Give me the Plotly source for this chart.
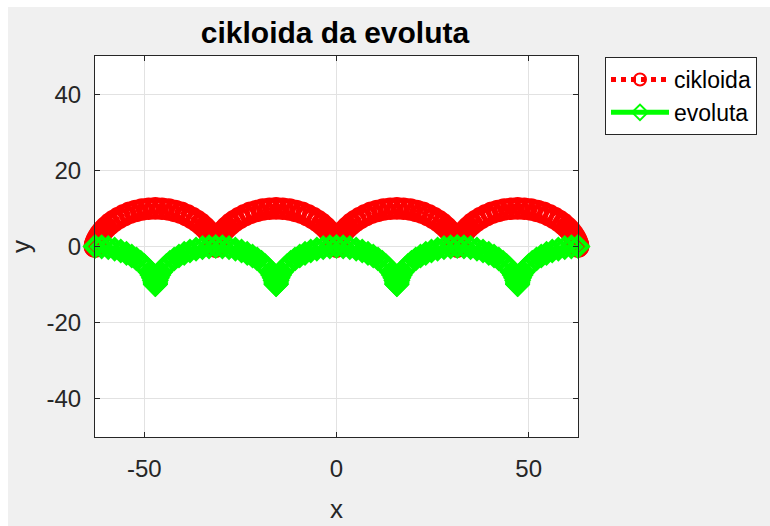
import plotly.graph_objects as go

# Cycloid (r = 5) sampled every 10 degrees of the rolling angle, from -4*pi to 4*pi
cikloida_x = [
    -62.83, -62.83, -62.80, -62.72, -62.56, -62.30, -61.93, -61.43, -60.78, -59.98,
    -59.03, -57.94, -56.69, -55.32, -53.83, -52.25, -50.58, -48.87, -47.13, -45.39,
    -43.67, -42.01, -40.42, -38.93, -37.56, -36.32, -35.22, -34.27, -33.48, -32.83,
    -32.33, -31.95, -31.70, -31.54, -31.46, -31.42, -31.42,
    -31.41, -31.38, -31.30, -31.14, -30.88, -30.51, -30.01, -29.36, -28.56, -27.61,
    -26.52, -25.27, -23.90, -22.41, -20.83, -19.16, -17.45, -15.71, -13.97, -12.25,
    -10.59, -9.00, -7.51, -6.14, -4.90, -3.80, -2.85, -2.06, -1.41, -0.91,
    -0.53, -0.28, -0.12, -0.04, 0.00, 0.00,
    0.00, 0.04, 0.12, 0.28, 0.53, 0.91, 1.41, 2.06, 2.85, 3.80,
    4.90, 6.14, 7.51, 9.00, 10.59, 12.25, 13.97, 15.71, 17.45, 19.16,
    20.83, 22.41, 23.90, 25.27, 26.52, 27.61, 28.56, 29.36, 30.01, 30.51,
    30.88, 31.14, 31.30, 31.38, 31.41, 31.42,
    31.42, 31.46, 31.54, 31.70, 31.95, 32.33, 32.83, 33.48, 34.27, 35.22,
    36.32, 37.56, 38.93, 40.42, 42.01, 43.67, 45.39, 47.13, 48.87, 50.58,
    52.25, 53.83, 55.32, 56.69, 57.94, 59.03, 59.98, 60.78, 61.43, 61.93,
    62.30, 62.56, 62.72, 62.80, 62.83, 62.83,
]
cikloida_y = [
    0.00, 0.08, 0.30, 0.67, 1.17, 1.79, 2.50, 3.29, 4.13, 5.00,
    5.87, 6.71, 7.50, 8.21, 8.83, 9.33, 9.70, 9.92, 10.00, 9.92,
    9.70, 9.33, 8.83, 8.21, 7.50, 6.71, 5.87, 5.00, 4.13, 3.29,
    2.50, 1.79, 1.17, 0.67, 0.30, 0.08, 0.00,
    0.08, 0.30, 0.67, 1.17, 1.79, 2.50, 3.29, 4.13, 5.00, 5.87,
    6.71, 7.50, 8.21, 8.83, 9.33, 9.70, 9.92, 10.00, 9.92, 9.70,
    9.33, 8.83, 8.21, 7.50, 6.71, 5.87, 5.00, 4.13, 3.29, 2.50,
    1.79, 1.17, 0.67, 0.30, 0.08, 0.00,
    0.08, 0.30, 0.67, 1.17, 1.79, 2.50, 3.29, 4.13, 5.00, 5.87,
    6.71, 7.50, 8.21, 8.83, 9.33, 9.70, 9.92, 10.00, 9.92, 9.70,
    9.33, 8.83, 8.21, 7.50, 6.71, 5.87, 5.00, 4.13, 3.29, 2.50,
    1.79, 1.17, 0.67, 0.30, 0.08, 0.00,
    0.08, 0.30, 0.67, 1.17, 1.79, 2.50, 3.29, 4.13, 5.00, 5.87,
    6.71, 7.50, 8.21, 8.83, 9.33, 9.70, 9.92, 10.00, 9.92, 9.70,
    9.33, 8.83, 8.21, 7.50, 6.71, 5.87, 5.00, 4.13, 3.29, 2.50,
    1.79, 1.17, 0.67, 0.30, 0.08, 0.00,
]

# Its evolute: the same cycloid shifted half a period and turned upside down
evoluta_x = [
    -62.83, -61.10, -59.38, -57.72, -56.13, -54.64, -53.27, -52.03, -50.93, -49.98,
    -49.19, -48.54, -48.03, -47.66, -47.41, -47.25, -47.16, -47.13, -47.13, -47.12,
    -47.09, -47.01, -46.85, -46.59, -46.22, -45.72, -45.07, -44.27, -43.33, -42.23,
    -40.99, -39.61, -38.12, -36.54, -34.88, -33.16, -31.42,
    -29.68, -27.96, -26.30, -24.71, -23.22, -21.85, -20.61, -19.51, -18.56, -17.77,
    -17.12, -16.61, -16.24, -15.99, -15.83, -15.74, -15.71, -15.71, -15.70, -15.67,
    -15.59, -15.43, -15.17, -14.80, -14.30, -13.65, -12.85, -11.91, -10.81, -9.57,
    -8.19, -6.70, -5.12, -3.46, -1.74, 0.00,
    1.74, 3.46, 5.12, 6.70, 8.19, 9.57, 10.81, 11.91, 12.85, 13.65,
    14.30, 14.80, 15.17, 15.43, 15.59, 15.67, 15.70, 15.71, 15.71, 15.74,
    15.83, 15.99, 16.24, 16.61, 17.12, 17.77, 18.56, 19.51, 20.61, 21.85,
    23.22, 24.71, 26.30, 27.96, 29.68, 31.42,
    33.16, 34.88, 36.54, 38.12, 39.61, 40.99, 42.23, 43.33, 44.27, 45.07,
    45.72, 46.22, 46.59, 46.85, 47.01, 47.09, 47.12, 47.13, 47.13, 47.16,
    47.25, 47.41, 47.66, 48.03, 48.54, 49.19, 49.98, 50.93, 52.03, 53.27,
    54.64, 56.13, 57.72, 59.38, 61.10, 62.83,
]
evoluta_y = [
    0.00, -0.08, -0.30, -0.67, -1.17, -1.79, -2.50, -3.29, -4.13, -5.00,
    -5.87, -6.71, -7.50, -8.21, -8.83, -9.33, -9.70, -9.92, -10.00, -9.92,
    -9.70, -9.33, -8.83, -8.21, -7.50, -6.71, -5.87, -5.00, -4.13, -3.29,
    -2.50, -1.79, -1.17, -0.67, -0.30, -0.08, 0.00,
    -0.08, -0.30, -0.67, -1.17, -1.79, -2.50, -3.29, -4.13, -5.00, -5.87,
    -6.71, -7.50, -8.21, -8.83, -9.33, -9.70, -9.92, -10.00, -9.92, -9.70,
    -9.33, -8.83, -8.21, -7.50, -6.71, -5.87, -5.00, -4.13, -3.29, -2.50,
    -1.79, -1.17, -0.67, -0.30, -0.08, 0.00,
    -0.08, -0.30, -0.67, -1.17, -1.79, -2.50, -3.29, -4.13, -5.00, -5.87,
    -6.71, -7.50, -8.21, -8.83, -9.33, -9.70, -9.92, -10.00, -9.92, -9.70,
    -9.33, -8.83, -8.21, -7.50, -6.71, -5.87, -5.00, -4.13, -3.29, -2.50,
    -1.79, -1.17, -0.67, -0.30, -0.08, 0.00,
    -0.08, -0.30, -0.67, -1.17, -1.79, -2.50, -3.29, -4.13, -5.00, -5.87,
    -6.71, -7.50, -8.21, -8.83, -9.33, -9.70, -9.92, -10.00, -9.92, -9.70,
    -9.33, -8.83, -8.21, -7.50, -6.71, -5.87, -5.00, -4.13, -3.29, -2.50,
    -1.79, -1.17, -0.67, -0.30, -0.08, 0.00,
]

x_ticks = [-50, 0, 50]
y_ticks = [-40, -20, 0, 20, 40]
x_limits = [-62.83, 62.83]
y_limits = [-50, 50]

W, H = 770, 526
L, R, T, B = 95, 192, 56, 89
plot_w = W - L - R
plot_h = H - T - B

FONT = "Liberation Sans, Arial, Helvetica, sans-serif"
AX = "#262626"

fig = go.Figure()

fig.add_trace(go.Scatter(
    x=cikloida_x, y=cikloida_y, name="cikloida",
    mode="lines+markers",
    line=dict(color="#ff0000", width=3, dash="dot"),
    marker=dict(symbol="circle-open", size=18, color="#ff0000",
                line=dict(width=4.6, color="#ff0000")),
    cliponaxis=False,
))
fig.add_trace(go.Scatter(
    x=evoluta_x, y=evoluta_y, name="evoluta",
    mode="lines+markers",
    line=dict(color="#00ff00", width=4),
    marker=dict(symbol="diamond-open", size=15, color="#00ff00",
                line=dict(width=4, color="#00ff00")),
    cliponaxis=False,
))

axis_common = dict(
    showline=True, linecolor=AX, linewidth=1, mirror="allticks",
    ticks="inside", ticklen=5, tickcolor=AX, tickwidth=1,
    showgrid=True, gridcolor="#e2e2e2", gridwidth=1,
    zeroline=False, automargin=False,
    tickfont=dict(family=FONT, size=24, color=AX),
)

fig.update_xaxes(
    range=x_limits, tickmode="array", tickvals=x_ticks,
    ticktext=[str(v) for v in x_ticks],
    title=dict(text="x", font=dict(family=FONT, size=26, color=AX), standoff=19),
    ticklabelstandoff=10,
    **axis_common,
)
fig.update_yaxes(
    range=y_limits, tickmode="array", tickvals=y_ticks,
    ticktext=[str(v) for v in y_ticks],
    title=dict(text="y", font=dict(family=FONT, size=26, color=AX), standoff=8),
    ticklabelstandoff=8,
    **axis_common,
)

# white frame strips along the top and left edges of the page
def px_x(p):
    return (p - L) / plot_w

def px_y(p):
    return (H - B - p) / plot_h

fig.add_shape(type="rect", xref="paper", yref="paper",
              x0=px_x(0), x1=px_x(W), y0=px_y(0), y1=px_y(7),
              fillcolor="white", line=dict(width=0), layer="below")
fig.add_shape(type="rect", xref="paper", yref="paper",
              x0=px_x(0), x1=px_x(8), y0=px_y(0), y1=px_y(H),
              fillcolor="white", line=dict(width=0), layer="below")

fig.update_layout(
    width=W, height=H,
    margin=dict(l=L, r=R, t=T, b=B, pad=0, autoexpand=False),
    paper_bgcolor="#f0f0f0",
    plot_bgcolor="white",
    title=dict(text="<b>cikloida da evoluta</b>",
               font=dict(family=FONT, size=30, color="#000000"),
               x=px_x(335), xref="paper", xanchor="center",
               y=1 - 32 / H, yref="container", yanchor="middle"),
    legend=dict(
        x=px_x(605), y=px_y(57), xanchor="left", yanchor="top",
        bgcolor="white", bordercolor=AX, borderwidth=1,
        font=dict(family=FONT, size=23, color="#000000"),
        itemwidth=58, itemsizing="constant",
        tracegroupgap=0,
    ),
    showlegend=True,
)

fig.write_html("out.html")
